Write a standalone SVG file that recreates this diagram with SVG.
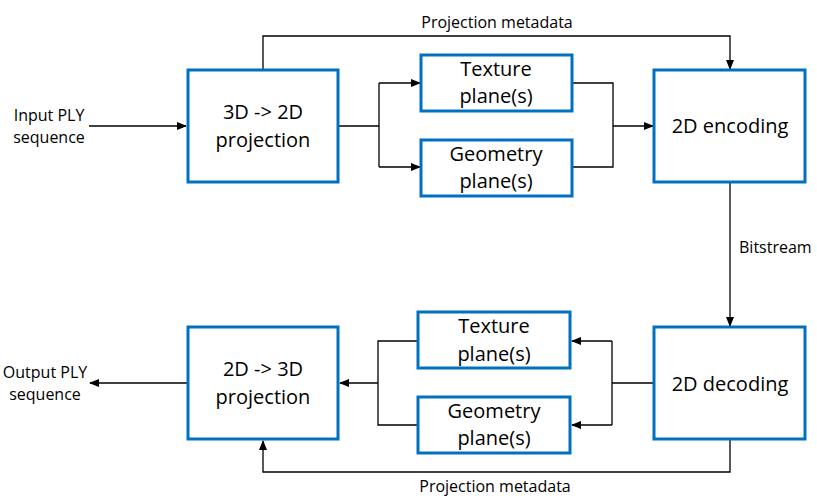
<svg xmlns="http://www.w3.org/2000/svg" width="817" height="500" viewBox="0 0 817 500">
<defs>
<marker id="ah" markerWidth="10" markerHeight="8" refX="9" refY="4" orient="auto" markerUnits="userSpaceOnUse">
<path d="M0,0 L10,4 L0,8 Z" fill="#000"/>
</marker>
<style>
.box{fill:#fff;stroke:#0070C0;stroke-width:3}
.big{font-family:"Open Sans","Liberation Sans",sans-serif;font-size:20px;fill:#000;text-anchor:middle}
.sm{font-family:"Open Sans","Liberation Sans",sans-serif;font-size:16px;fill:#000}
.c{fill:none;stroke:#000;stroke-width:1.3}
</style>
</defs>
<rect width="817" height="500" fill="#fff"/>
<g id="connectors">
<path class="c" d="M89,126 H186" marker-end="url(#ah)"/>
<path class="c" d="M263,70 V36 H730 V69" marker-end="url(#ah)"/>
<path class="c" d="M339,126 H379 M379,83 V167"/>
<path class="c" d="M379,83 H420" marker-end="url(#ah)"/>
<path class="c" d="M379,167 H420" marker-end="url(#ah)"/>
<path class="c" d="M572,83 H613 V167 H572"/>
<path class="c" d="M613,126 H653" marker-end="url(#ah)"/>
<path class="c" d="M730,183 V326" marker-end="url(#ah)"/>
<path class="c" d="M654,383 H612 M612,341 V425"/>
<path class="c" d="M612,341 H572" marker-end="url(#ah)"/>
<path class="c" d="M612,425 H572" marker-end="url(#ah)"/>
<path class="c" d="M418,341 H378 V425 H418"/>
<path class="c" d="M378,383 H340" marker-end="url(#ah)"/>
<path class="c" d="M187,383 H90" marker-end="url(#ah)"/>
<path class="c" d="M730,440 V472 H263 V441" marker-end="url(#ah)"/>
<text class="sm" x="497" y="28" text-anchor="middle">Projection metadata</text>
<text class="sm" x="739" y="253">Bitstream</text>
<text class="sm" x="495" y="492" text-anchor="middle">Projection metadata</text>
<text class="sm" x="49" y="121" text-anchor="middle">Input PLY</text>
<text class="sm" x="49" y="143" text-anchor="middle">sequence</text>
<text class="sm" x="45" y="378" text-anchor="middle">Output PLY</text>
<text class="sm" x="45" y="400" text-anchor="middle">sequence</text>
</g>
<g id="proj3d2d">
<rect class="box" x="188" y="70" width="150" height="112"/>
<text class="big" x="263" y="119">3D -&gt; 2D</text>
<text class="big" x="263" y="147">projection</text>
</g>
<g id="textureTop">
<rect class="box" x="421" y="55" width="151" height="56"/>
<text class="big" x="496" y="76">Texture</text>
<text class="big" x="496" y="103">plane(s)</text>
</g>
<g id="geometryTop">
<rect class="box" x="421" y="140" width="151" height="56"/>
<text class="big" x="496" y="161">Geometry</text>
<text class="big" x="496" y="188">plane(s)</text>
</g>
<g id="encoding">
<rect class="box" x="654" y="70" width="151" height="112"/>
<text class="big" x="730" y="133">2D encoding</text>
</g>
<g id="decoding">
<rect class="box" x="654" y="327" width="151" height="112"/>
<text class="big" x="730" y="391">2D decoding</text>
</g>
<g id="textureBottom">
<rect class="box" x="418" y="312" width="152" height="56"/>
<text class="big" x="494" y="333">Texture</text>
<text class="big" x="494" y="361">plane(s)</text>
</g>
<g id="geometryBottom">
<rect class="box" x="418" y="397" width="152" height="56"/>
<text class="big" x="494" y="418">Geometry</text>
<text class="big" x="494" y="445">plane(s)</text>
</g>
<g id="proj2d3d">
<rect class="box" x="188" y="327" width="150" height="112"/>
<text class="big" x="263" y="376">2D -&gt; 3D</text>
<text class="big" x="263" y="404">projection</text>
</g>
</svg>
